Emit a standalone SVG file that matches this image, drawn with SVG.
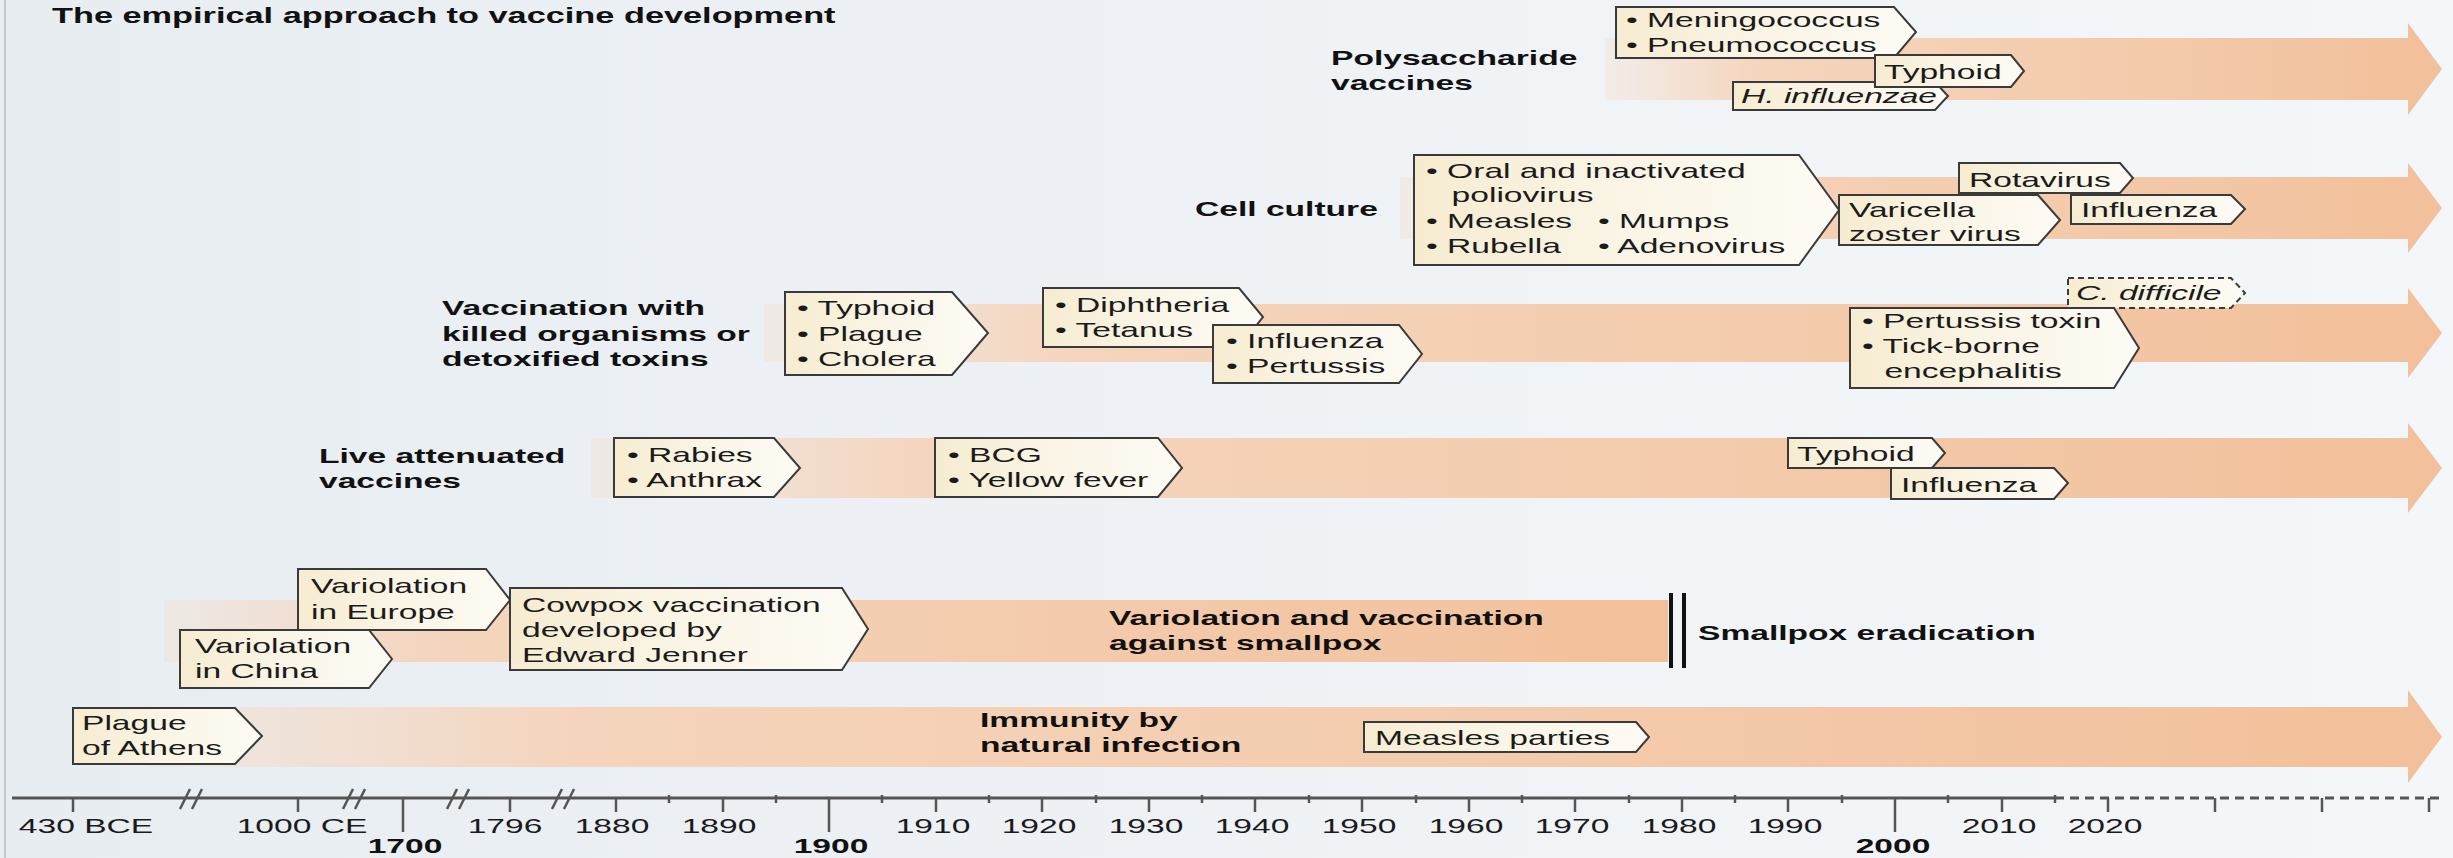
<svg xmlns="http://www.w3.org/2000/svg" width="2453" height="858" viewBox="0 0 2453 858">
<defs>
<linearGradient id="bg" x1="0" y1="0" x2="1" y2="0">
<stop offset="0" stop-color="#e8edf1"/>
<stop offset="1" stop-color="#f4f7fa"/>
</linearGradient>
<linearGradient id="bandg" x1="0" y1="0" x2="1" y2="0">
<stop offset="0" stop-color="#f7d6bd" stop-opacity="0.25"/>
<stop offset="0.18" stop-color="#f6d0b3" stop-opacity="0.85"/>
<stop offset="1" stop-color="#f2c09a"/>
</linearGradient>
<linearGradient id="boxg" x1="0" y1="0" x2="1" y2="0">
<stop offset="0" stop-color="#f6ecd1"/>
<stop offset="0.5" stop-color="#faf5e6"/>
<stop offset="1" stop-color="#fdfbf5"/>
</linearGradient>
<style>
.t{font-family:"Liberation Sans",Arial,sans-serif;font-size:21px;fill:#1b1b1b}
.b{font-weight:bold;fill:#111}
.i{font-style:italic}
.ym{text-anchor:middle}
.box{fill:url(#boxg);stroke:#3a3a3a;stroke-width:2}
.dash{stroke-dasharray:6 4}
.band{fill:url(#bandg)}
.ax{stroke:#555;stroke-width:3;fill:none}
.tk{stroke:#555;stroke-width:2.5}
</style>
</defs>

<rect x="0" y="0" width="2453" height="858" fill="url(#bg)"/>
<line x1="5" y1="0" x2="5" y2="858" stroke="#c4c6c8" stroke-width="2"/>

<g id="title">
<text class="t b" style="font-size:22px" transform="matrix(1.56 0 0 1 52 23)">The empirical approach to vaccine development</text>
</g>

<g id="bands">
<path class="band" d="M1605,38 H2408 V23 L2442,69 L2408,115 V100 H1605 Z"/>
<path class="band" d="M1400,177 H2408 V163 L2442,208 L2408,253 V239 H1400 Z"/>
<path class="band" d="M764,304 H2408 V288 L2442,333 L2408,378 V362 H764 Z"/>
<path class="band" d="M591,438 H2408 V423 L2442,468 L2408,513 V498 H591 Z"/>
<path class="band" d="M164,600 H1668 V662 H164 Z"/>
<path class="band" d="M150,707 H2408 V690 L2442,737 L2408,783 V767 H150 Z"/>
</g>

<!-- Row 1: Polysaccharide -->
<g id="label-polysaccharide">
<text class="t b" transform="matrix(1.6 0 0 1 1331 0)"><tspan x="0" y="65">Polysaccharide</tspan><tspan x="0" y="90">vaccines</tspan></text>
</g>
<g id="node-meningo">
<path class="box" d="M1616,7 H1894 L1916,32 L1894,58 H1616 Z"/>
<text class="t" transform="matrix(1.6 0 0 1 1626 0)"><tspan x="0" y="27">• Meningococcus</tspan><tspan x="0" y="52">• Pneumococcus</tspan></text>
</g>
<g id="node-hinfluenzae">
<path class="box" d="M1733,82 H1935 L1948,96 L1935,110 H1733 Z"/>
<text class="t i" transform="matrix(1.6 0 0 1 1741 0)"><tspan x="0" y="103">H. influenzae</tspan></text>
</g>
<g id="node-typhoid1">
<path class="box" d="M1875,55 H2011 L2024,71 L2011,87 H1875 Z"/>
<text class="t" transform="matrix(1.6 0 0 1 1884 0)"><tspan x="0" y="79">Typhoid</tspan></text>
</g>

<!-- Row 2: Cell culture -->
<g id="label-cellculture">
<text class="t b" transform="matrix(1.6 0 0 1 1195 0)"><tspan x="0" y="216">Cell culture</tspan></text>
</g>
<g id="node-cellculture">
<path class="box" d="M1414,155 H1799 L1839,210 L1799,265 H1414 Z"/>
<text class="t" transform="matrix(1.6 0 0 1 1426 0)"><tspan x="0" y="178">• Oral and inactivated</tspan><tspan x="16" y="202">poliovirus</tspan><tspan x="0" y="228">• Measles</tspan><tspan x="0" y="253">• Rubella</tspan></text>
<text class="t" transform="matrix(1.6 0 0 1 1598 0)"><tspan x="0" y="228">• Mumps</tspan><tspan x="0" y="253">• Adenovirus</tspan></text>
</g>
<g id="node-rotavirus">
<path class="box" d="M1959,163 H2120 L2133,178 L2120,193 H1959 Z"/>
<text class="t" transform="matrix(1.6 0 0 1 1969 0)"><tspan x="0" y="187">Rotavirus</tspan></text>
</g>
<g id="node-varicella">
<path class="box" d="M1839,195 H2038 L2060,220 L2038,245 H1839 Z"/>
<text class="t" transform="matrix(1.6 0 0 1 1849 0)"><tspan x="0" y="217">Varicella</tspan><tspan x="0" y="241">zoster virus</tspan></text>
</g>
<g id="node-influenza2">
<path class="box" d="M2071,195 H2231 L2245,209 L2231,224 H2071 Z"/>
<text class="t" transform="matrix(1.6 0 0 1 2081 0)"><tspan x="0" y="217">Influenza</tspan></text>
</g>

<!-- Row 3: Killed organisms -->
<g id="label-killed">
<text class="t b" transform="matrix(1.6 0 0 1 442 0)"><tspan x="0" y="315">Vaccination with</tspan><tspan x="0" y="341">killed organisms or</tspan><tspan x="0" y="366">detoxified toxins</tspan></text>
</g>
<g id="node-typhoid-plague">
<path class="box" d="M785,292 H952 L988,333 L952,375 H785 Z"/>
<text class="t" transform="matrix(1.6 0 0 1 797 0)"><tspan x="0" y="315">• Typhoid</tspan><tspan x="0" y="341">• Plague</tspan><tspan x="0" y="366">• Cholera</tspan></text>
</g>
<g id="node-diphtheria">
<path class="box" d="M1043,288 H1239 L1263,317 L1239,347 H1043 Z"/>
<text class="t" transform="matrix(1.6 0 0 1 1055 0)"><tspan x="0" y="312">• Diphtheria</tspan><tspan x="0" y="337">• Tetanus</tspan></text>
</g>
<g id="node-influenza-pertussis">
<path class="box" d="M1213,325 H1399 L1422,354 L1399,383 H1213 Z"/>
<text class="t" transform="matrix(1.6 0 0 1 1226 0)"><tspan x="0" y="348">• Influenza</tspan><tspan x="0" y="373">• Pertussis</tspan></text>
</g>
<g id="node-cdifficile">
<path class="box dash" d="M2068,278 H2231 L2245,293 L2231,308 H2068 Z"/>
<text class="t i" transform="matrix(1.6 0 0 1 2076 0)"><tspan x="0" y="300">C. difficile</tspan></text>
</g>
<g id="node-pertussis-toxin">
<path class="box" d="M1850,308 H2114 L2139,348 L2114,388 H1850 Z"/>
<text class="t" transform="matrix(1.6 0 0 1 1862 0)"><tspan x="0" y="328">• Pertussis toxin</tspan><tspan x="0" y="353">• Tick-borne</tspan><tspan x="14" y="378">encephalitis</tspan></text>
</g>

<!-- Row 4: Live attenuated -->
<g id="label-live">
<text class="t b" transform="matrix(1.6 0 0 1 319 0)"><tspan x="0" y="463">Live attenuated</tspan><tspan x="0" y="488">vaccines</tspan></text>
</g>
<g id="node-rabies">
<path class="box" d="M614,438 H774 L800,468 L774,497 H614 Z"/>
<text class="t" transform="matrix(1.6 0 0 1 627 0)"><tspan x="0" y="462">• Rabies</tspan><tspan x="0" y="487">• Anthrax</tspan></text>
</g>
<g id="node-bcg">
<path class="box" d="M935,438 H1158 L1182,468 L1158,497 H935 Z"/>
<text class="t" transform="matrix(1.6 0 0 1 948 0)"><tspan x="0" y="462">• BCG</tspan><tspan x="0" y="487">• Yellow fever</tspan></text>
</g>
<g id="node-typhoid4">
<path class="box" d="M1788,438 H1932 L1945,453 L1932,468 H1788 Z"/>
<text class="t" transform="matrix(1.6 0 0 1 1797 0)"><tspan x="0" y="461">Typhoid</tspan></text>
</g>
<g id="node-influenza4">
<path class="box" d="M1891,468 H2054 L2068,483 L2054,499 H1891 Z"/>
<text class="t" transform="matrix(1.6 0 0 1 1901 0)"><tspan x="0" y="492">Influenza</tspan></text>
</g>

<!-- Row 5: Smallpox -->
<g id="label-variolation-vaccination">
<text class="t b" transform="matrix(1.6 0 0 1 1109 0)"><tspan x="0" y="625">Variolation and vaccination</tspan><tspan x="0" y="650">against smallpox</tspan></text>
</g>
<g id="node-eradication">
<rect x="1669" y="593" width="4" height="75" fill="#111"/>
<rect x="1682" y="593" width="4" height="75" fill="#111"/>
<text class="t b" transform="matrix(1.6 0 0 1 1698 0)"><tspan x="0" y="640">Smallpox eradication</tspan></text>
</g>
<g id="node-var-europe">
<path class="box" d="M298,569 H486 L510,600 L486,630 H298 Z"/>
<text class="t" transform="matrix(1.6 0 0 1 311 0)"><tspan x="0" y="593">Variolation</tspan><tspan x="0" y="619">in Europe</tspan></text>
</g>
<g id="node-var-china">
<path class="box" d="M180,630 H369 L392,659 L369,688 H180 Z"/>
<text class="t" transform="matrix(1.6 0 0 1 195 0)"><tspan x="0" y="653">Variolation</tspan><tspan x="0" y="678">in China</tspan></text>
</g>
<g id="node-cowpox">
<path class="box" d="M510,588 H842 L868,629 L842,670 H510 Z"/>
<text class="t" transform="matrix(1.6 0 0 1 522 0)"><tspan x="0" y="612">Cowpox vaccination</tspan><tspan x="0" y="637">developed by</tspan><tspan x="0" y="662">Edward Jenner</tspan></text>
</g>

<!-- Row 6: Natural infection -->
<g id="node-plague-athens">
<path class="box" d="M73,708 H235 L262,736 L235,764 H73 Z"/>
<text class="t" transform="matrix(1.6 0 0 1 82 0)"><tspan x="0" y="730">Plague</tspan><tspan x="0" y="755">of Athens</tspan></text>
</g>
<g id="label-natural">
<text class="t b" transform="matrix(1.6 0 0 1 980 0)"><tspan x="0" y="727">Immunity by</tspan><tspan x="0" y="752">natural infection</tspan></text>
</g>
<g id="node-measles-parties">
<path class="box" d="M1364,722 H1636 L1649,737 L1636,752 H1364 Z"/>
<text class="t" transform="matrix(1.6 0 0 1 1375 0)"><tspan x="0" y="745">Measles parties</tspan></text>
</g>

<!-- Axis -->
<g id="axis">
<line class="ax" x1="12" y1="798" x2="2055" y2="798"/>
<line class="ax" x1="2055" y1="798" x2="2440" y2="798" stroke-dasharray="9 6"/>
<g class="tk">
<line x1="73" y1="798" x2="73" y2="812"/>
<line x1="298" y1="798" x2="298" y2="812"/>
<line x1="510" y1="798" x2="510" y2="812"/>
<line x1="616" y1="798" x2="616" y2="812"/>
<line x1="723" y1="798" x2="723" y2="812"/>
<line x1="936" y1="798" x2="936" y2="812"/>
<line x1="1042" y1="798" x2="1042" y2="812"/>
<line x1="1149" y1="798" x2="1149" y2="812"/>
<line x1="1255" y1="798" x2="1255" y2="812"/>
<line x1="1362" y1="798" x2="1362" y2="812"/>
<line x1="1469" y1="798" x2="1469" y2="812"/>
<line x1="1575" y1="798" x2="1575" y2="812"/>
<line x1="1682" y1="798" x2="1682" y2="812"/>
<line x1="1788" y1="798" x2="1788" y2="812"/>
<line x1="2002" y1="798" x2="2002" y2="812"/>
<line x1="2108" y1="798" x2="2108" y2="812"/>
<line x1="2215" y1="798" x2="2215" y2="812"/>
<line x1="2322" y1="798" x2="2322" y2="812"/>
<line x1="2429" y1="798" x2="2429" y2="812"/>
<line x1="403" y1="798" x2="403" y2="832"/>
<line x1="829" y1="798" x2="829" y2="832"/>
<line x1="1895" y1="798" x2="1895" y2="832"/>
<line x1="669" y1="795" x2="669" y2="803"/>
<line x1="776" y1="795" x2="776" y2="803"/>
<line x1="882" y1="795" x2="882" y2="803"/>
<line x1="989" y1="795" x2="989" y2="803"/>
<line x1="1096" y1="795" x2="1096" y2="803"/>
<line x1="1202" y1="795" x2="1202" y2="803"/>
<line x1="1309" y1="795" x2="1309" y2="803"/>
<line x1="1416" y1="795" x2="1416" y2="803"/>
<line x1="1522" y1="795" x2="1522" y2="803"/>
<line x1="1629" y1="795" x2="1629" y2="803"/>
<line x1="1735" y1="795" x2="1735" y2="803"/>
<line x1="1842" y1="795" x2="1842" y2="803"/>
<line x1="1948" y1="795" x2="1948" y2="803"/>
<line x1="2055" y1="795" x2="2055" y2="803"/>
</g>
<g class="tk">
<line x1="180" y1="809" x2="190" y2="789"/><line x1="192" y1="809" x2="202" y2="789"/>
<line x1="343" y1="809" x2="353" y2="789"/><line x1="355" y1="809" x2="365" y2="789"/>
<line x1="447" y1="809" x2="457" y2="789"/><line x1="459" y1="809" x2="469" y2="789"/>
<line x1="552" y1="809" x2="562" y2="789"/><line x1="564" y1="809" x2="574" y2="789"/>
</g>
<g class="t">
<text class="t ym" transform="matrix(1.6 0 0 1 86 833)">430 BCE</text>
<text class="t ym" transform="matrix(1.6 0 0 1 302 833)">1000 CE</text>
<text class="t ym" transform="matrix(1.6 0 0 1 505 833)">1796</text>
<text class="t ym" transform="matrix(1.6 0 0 1 612 833)">1880</text>
<text class="t ym" transform="matrix(1.6 0 0 1 719 833)">1890</text>
<text class="t ym" transform="matrix(1.6 0 0 1 933 833)">1910</text>
<text class="t ym" transform="matrix(1.6 0 0 1 1039 833)">1920</text>
<text class="t ym" transform="matrix(1.6 0 0 1 1146 833)">1930</text>
<text class="t ym" transform="matrix(1.6 0 0 1 1252 833)">1940</text>
<text class="t ym" transform="matrix(1.6 0 0 1 1359 833)">1950</text>
<text class="t ym" transform="matrix(1.6 0 0 1 1466 833)">1960</text>
<text class="t ym" transform="matrix(1.6 0 0 1 1572 833)">1970</text>
<text class="t ym" transform="matrix(1.6 0 0 1 1679 833)">1980</text>
<text class="t ym" transform="matrix(1.6 0 0 1 1785 833)">1990</text>
<text class="t ym" transform="matrix(1.6 0 0 1 1999 833)">2010</text>
<text class="t ym" transform="matrix(1.6 0 0 1 2105 833)">2020</text>
<text class="t b ym" transform="matrix(1.6 0 0 1 405 853)">1700</text>
<text class="t b ym" transform="matrix(1.6 0 0 1 831 853)">1900</text>
<text class="t b ym" transform="matrix(1.6 0 0 1 1893 853)">2000</text>
</g>
</g>
</svg>
